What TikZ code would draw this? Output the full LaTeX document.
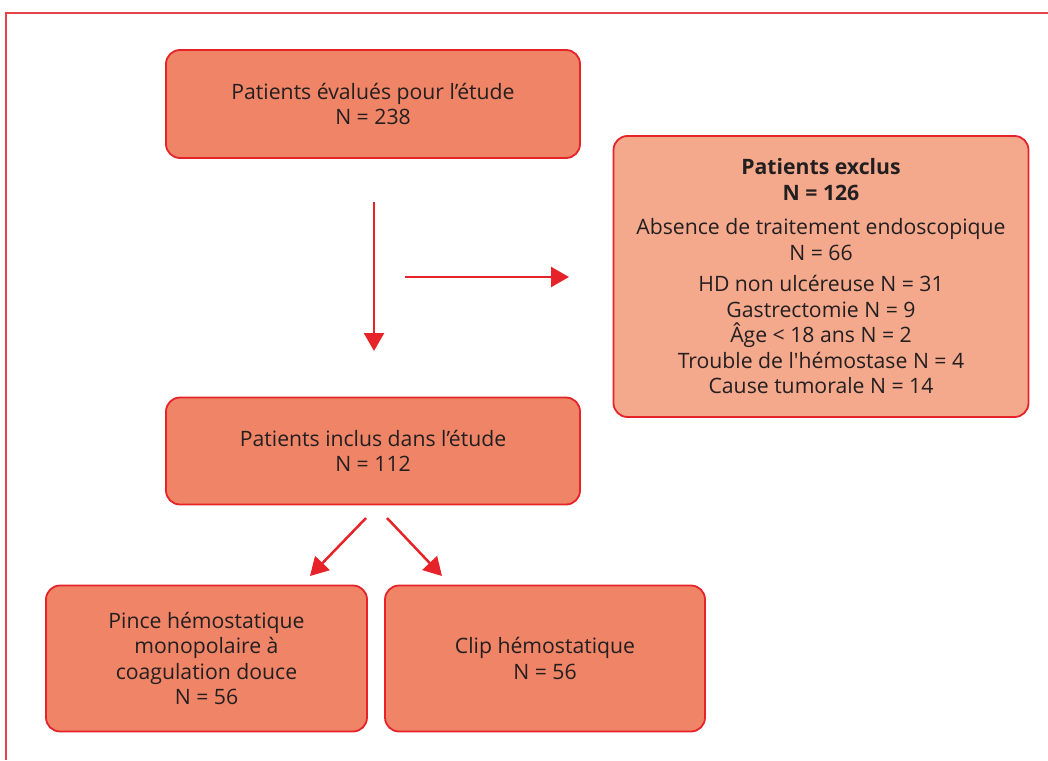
\documentclass[tikz,border=0pt]{standalone}
\usepackage{fontspec}
\setmainfont{Open Sans}[Ligatures=TeXOff]
\usetikzlibrary{arrows.meta}
\definecolor{boxfill}{HTML}{EF8466}
\definecolor{exfill}{HTML}{F4A88C}
\definecolor{boxred}{HTML}{E52329}
\definecolor{framered}{HTML}{E8434A}
\definecolor{txt}{HTML}{231F20}
\tikzset{
  flowbox/.style={draw=boxred, line width=1.8pt, fill=boxfill, rounded corners=14pt,
    align=center, text=txt, inner sep=0pt,
    font=\fontsize{21.2}{25.5}\selectfont},
  exbox/.style={flowbox, fill=exfill},
  flowarrow/.style={draw=boxred, line width=2.5pt, -{Triangle[length=18pt,width=20pt]}}
}
\begin{document}
\begin{tikzpicture}[x=1pt,y=-1pt]
\useasboundingbox (0,0) rectangle (1048,760);
% frame
\draw[framered, line width=1.5pt] (6,760) -- (6,13) -- (1048,13);
% boxes
\node[flowbox, minimum width=414pt, minimum height=108pt] (eval) at (373,104)
  {Patients évalués pour l’étude\\N = 238};
\node[exbox, minimum width=415pt, minimum height=281pt] (excl) at (821,276.5)
  {\textbf{Patients exclus}\\\textbf{N = 126}\\[9pt]
   Absence de traitement endoscopique\\N = 66\\[6pt]
   HD non ulcéreuse N = 31\\Gastrectomie N = 9\\Âge < 18 ans N = 2\\
   Trouble de l'hémostase N = 4\\Cause tumorale N = 14};
\node[flowbox, minimum width=414pt, minimum height=107pt] (incl) at (373,451)
  {Patients inclus dans l’étude\\N = 112};
\node[flowbox, minimum width=321pt, minimum height=146pt] (pince) at (206.5,658.5)
  {Pince hémostatique\\monopolaire à\\coagulation douce\\N = 56};
\node[flowbox, minimum width=320pt, minimum height=146pt] (clip) at (545,658.5)
  {Clip hémostatique\\N = 56};
% arrow end points
\coordinate (dA) at (374,202);
\coordinate (dB) at (374,351);
\coordinate (rA) at (405,277);
\coordinate (rB) at (569,277);
\coordinate (lA) at (366,518);
\coordinate (lB) at (310,576);
\coordinate (cA) at (387,518);
\coordinate (cB) at (442,576);
\draw[flowarrow] (dA) -- (dB);
\draw[flowarrow] (rA) -- (rB);
\draw[flowarrow] (lA) -- (lB);
\draw[flowarrow] (cA) -- (cB);
\end{tikzpicture}
\end{document}
